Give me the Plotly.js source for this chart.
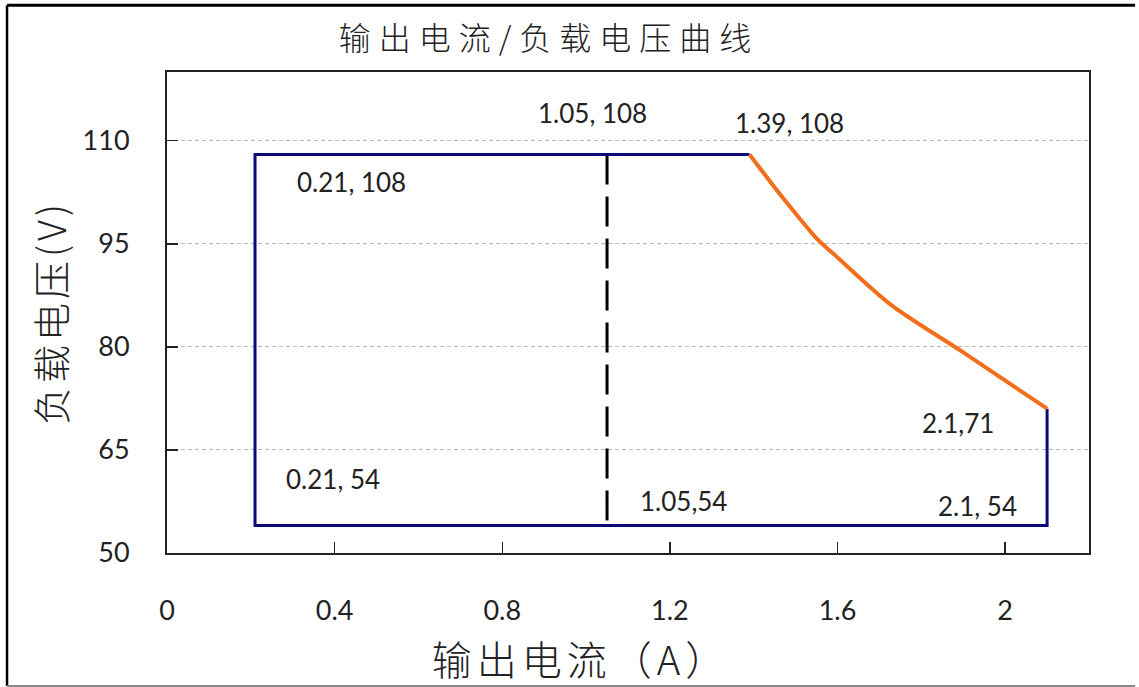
<!DOCTYPE html>
<html>
<head>
<meta charset="utf-8">
<script src="https://cdn.plot.ly/plotly-3.0.1.min.js"></script>
<style>
  html, body { margin: 0; padding: 0; background: #fff; }
  #chart { width: 1139px; height: 687px; }
  .gtitle { letter-spacing: 8px; }
  .xtitle { letter-spacing: 5px; transform: translate(-47px, 0px); }
  .ytitle { letter-spacing: 4px; }
</style>
</head>
<body>
<div id="chart"></div>
<script>
// ---- data ----
const chartTitle = "输出电流/负载电压曲线";
const xTitle = "输出电流（A）";
const yTitle = "负载电压(V)";

// blue boundary (constant-voltage / limits)
const boundaryX = [1.39, 0.21, 0.21, 2.1, 2.1];
const boundaryY = [108, 108, 54, 54, 71];

// orange constant-power curve
const curveX = [1.39, 1.45, 1.5, 1.55, 1.6, 1.73, 1.9, 2.1];
const curveY = [108, 103.2, 99.4, 95.8, 93, 86, 79.2, 71];

// dashed reference line
const dashX = [1.05, 1.05];
const dashY = [108, 54];

// point labels
const labelText = ["1.05, 108", "1.39, 108", "0.21, 108", "0.21, 54", "1.05,54", "2.1,71", "2.1, 54"];
const labelX    = [1.05, 1.39, 0.21, 0.21, 1.05, 2.1, 2.1];
const labelY    = [108, 108, 108, 54, 54, 71, 54];

const xTicks = [0, 0.4, 0.8, 1.2, 1.6, 2];
const xTickText = ["0", "0.4", "0.8", "1.2", "1.6", "2"];
const yTicks = [50, 65, 80, 95, 110];
const yTickText = ["50", "65", "80", "95", "110"];

// ---- styling (offsets of labels in pixels) ----
const labelShiftX = [-15, 40, 96, 78, 76, -89, -70];
const labelShiftY = [41, 31, -28, 47, 25, -14, 20];

const cjk = '"Noto Sans CJK SC", "Noto Sans", sans-serif';
const latin = 'Lato, "Open Sans", sans-serif';

const traces = [
  {
    x: dashX, y: dashY,
    type: 'scatter', mode: 'lines',
    line: { color: '#000000', width: 3, dash: '30px,12px' },
    hoverinfo: 'skip', showlegend: false
  },
  {
    x: boundaryX, y: boundaryY,
    type: 'scatter', mode: 'lines',
    line: { color: '#0a0a7a', width: 3 },
    showlegend: false
  },
  {
    x: curveX, y: curveY,
    type: 'scatter', mode: 'lines',
    line: { color: '#f26e1c', width: 4, shape: 'spline', smoothing: 0.8 },
    showlegend: false
  }
];

const annotations = labelText.map((t, i) => ({
  x: labelX[i], y: labelY[i], xref: 'x', yref: 'y',
  text: t, showarrow: false,
  xshift: labelShiftX[i], yshift: labelShiftY[i],
  xanchor: 'center', yanchor: 'middle',
  font: { family: latin, size: 26, color: '#222222' }
}));

// outer frame of the picture (paper coords relative to plot area)
const shapes = [
  { type: 'line', xref: 'paper', yref: 'paper', x0: -0.1735, x1: 1.05, y0: 1.139, y1: 1.139,
    line: { color: '#000', width: 3 } },
  { type: 'line', xref: 'paper', yref: 'paper', x0: -0.1735, x1: -0.1735, y0: 1.139, y1: -0.2765,
    line: { color: '#000', width: 2.5 } },
  { type: 'line', xref: 'paper', yref: 'paper', x0: -0.1735, x1: 1.05, y0: -0.2765, y1: -0.2765,
    line: { color: '#888', width: 2 } }
];

const layout = {
  width: 1139, height: 687,
  margin: { l: 167, r: 50, t: 72, b: 134 },
  paper_bgcolor: '#ffffff', plot_bgcolor: '#ffffff',
  title: {
    text: chartTitle,
    x: 0.482, xref: 'container', xanchor: 'center',
    y: 0.943, yref: 'container', yanchor: 'middle',
    font: { family: cjk, size: 32, color: '#222222', weight: 300 }
  },
  xaxis: {
    range: [0, 2.2],
    tickvals: xTicks, ticktext: xTickText,
    ticks: 'inside', ticklen: 11, tickwidth: 1.5, tickcolor: '#222',
    showline: true, linecolor: '#222', linewidth: 2, mirror: true,
    showgrid: false, zeroline: false,
    ticklabelstandoff: 33,
    tickfont: { family: latin, size: 27, color: '#222' },
    title: { text: xTitle, standoff: 24, font: { family: cjk, size: 40, color: '#222', weight: 300 } }
  },
  yaxis: {
    range: [50, 120],
    tickvals: yTicks, ticktext: yTickText,
    ticks: 'inside', ticklen: 11, tickwidth: 1.5, tickcolor: '#222',
    showline: true, linecolor: '#222', linewidth: 2, mirror: true,
    showgrid: true, gridcolor: '#b8b8b8', gridwidth: 1, griddash: '4px,3px',
    zeroline: false,
    ticklabelstandoff: 30,
    tickfont: { family: latin, size: 27, color: '#222' },
    title: { text: yTitle, standoff: 4, font: { family: cjk, size: 38, color: '#222', weight: 300 } }
  },
  annotations: annotations,
  shapes: shapes,
  showlegend: false
};

Plotly.newPlot('chart', traces, layout, { displayModeBar: false, staticPlot: true });
</script>
</body>
</html>
